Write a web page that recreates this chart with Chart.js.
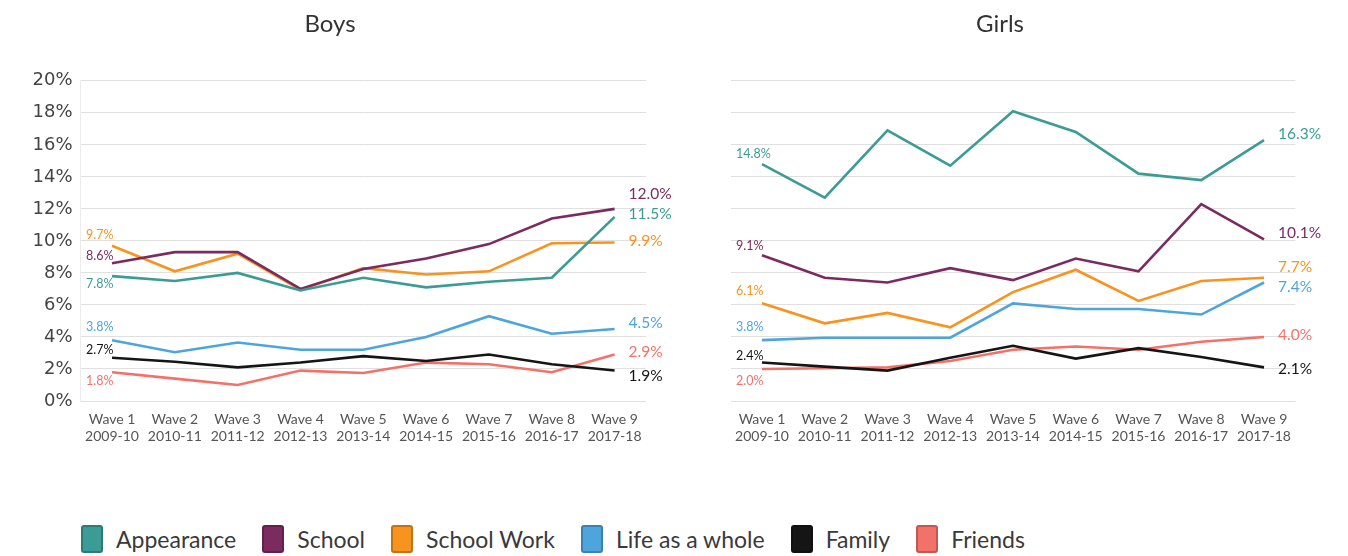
<!DOCTYPE html>
<html>
<head>
<meta charset="utf-8">
<title>Boys / Girls</title>
<script src="https://cdn.jsdelivr.net/npm/chart.js@4.4.1/dist/chart.umd.min.js"></script>
<style>
  body { margin: 0; background: #fff; width: 1348px; height: 556px; overflow: hidden; position: relative; font-family: Lato, sans-serif; }
  .wrap { position: absolute; top: 0; width: 674px; height: 460px; }
  #legend { position: absolute; left: 81px; top: 525px; display: flex; align-items: center; }
  .item { display: flex; align-items: center; margin-right: 26px; }
  .box { width: 22px; height: 28px; border-radius: 3px; box-sizing: border-box; border: 2px solid rgba(0,0,0,0.22); }
  .lbl { margin-left: 13px; font-size: 23px; color: #3a3a3a; line-height: 28px; }
</style>
</head>
<body>
<div class="wrap" style="left:0"><canvas id="boysChart"></canvas></div>
<div class="wrap" style="left:674px"><canvas id="girlsChart"></canvas></div>
<div id="legend"></div>

<script>
// カテゴリ (x軸ラベル 2行)
const waves = ["Wave 1", "Wave 2", "Wave 3", "Wave 4", "Wave 5", "Wave 6", "Wave 7", "Wave 8", "Wave 9"]
const years = ["2009-10", "2010-11", "2011-12", "2012-13", "2013-14", "2014-15", "2015-16", "2016-17", "2017-18"]

const seriesNames = ["Appearance", "School", "School Work", "Life as a whole", "Family", "Friends"]

// Boys (%)
const boysAppearance = [7.8, 7.5, 8.0, 6.9, 7.7, 7.1, 7.45, 7.7, 11.5]
const boysSchool     = [8.6, 9.3, 9.3, 7.0, 8.25, 8.9, 9.8, 11.4, 12.0]
const boysSchoolWork = [9.7, 8.1, 9.2, 6.95, 8.3, 7.9, 8.1, 9.85, 9.9]
const boysLife       = [3.8, 3.05, 3.65, 3.2, 3.2, 4.0, 5.3, 4.2, 4.5]
const boysFamily     = [2.7, 2.45, 2.1, 2.4, 2.8, 2.5, 2.9, 2.3, 1.9]
const boysFriends    = [1.8, 1.4, 1.0, 1.9, 1.75, 2.4, 2.3, 1.8, 2.9]

// Girls (%)
const girlsAppearance = [14.8, 12.7, 16.9, 14.7, 18.1, 16.8, 14.2, 13.8, 16.3]
const girlsSchool     = [9.1, 7.7, 7.4, 8.3, 7.55, 8.9, 8.1, 12.3, 10.1]
const girlsSchoolWork = [6.1, 4.85, 5.5, 4.6, 6.8, 8.2, 6.25, 7.5, 7.7]
const girlsLife       = [3.8, 3.95, 3.95, 3.95, 6.1, 5.75, 5.75, 5.4, 7.4]
const girlsFamily     = [2.4, 2.15, 1.9, 2.7, 3.45, 2.65, 3.3, 2.75, 2.1]
const girlsFriends    = [2.0, 2.05, 2.1, 2.5, 3.2, 3.4, 3.2, 3.7, 4.0]

// y軸目盛り
const yTicks = [0, 2, 4, 6, 8, 10, 12, 14, 16, 18, 20]

// 線の色
const colors = ["#3b9c95", "#7b2b60", "#f7931e", "#4ea5de", "#151515", "#f2726a"]

// 始点/終点ラベルの縦方向ずらし (px)
const boysStartShift  = [8, -7, -11, -13, -8, 9]
const boysEndShift    = [-3, -15, -2, -6, 5, -3]
const girlsStartShift = [-10, -9, -12, -13, -7, 12]
const girlsEndShift   = [-6, -6, -11, 4, 2, -2]

// 系列の始点と終点に値ラベルを描くプラグイン
const endLabels = {
  id: "endLabels",
  afterDatasetsDraw(chart, args, opts) {
    const ctx = chart.ctx
    chart.data.datasets.forEach((ds, i) => {
      const pts = chart.getDatasetMeta(i).data
      const first = pts[0]
      const last = pts[pts.length - 1]
      ctx.save()
      ctx.fillStyle = ds.borderColor
      ctx.textAlign = "left"
      ctx.textBaseline = "middle"
      ctx.font = "12.5px Lato, sans-serif"
      ctx.fillText(ds.data[0].toFixed(1) + "%", first.x - 26, first.y + opts.startShift[i])
      ctx.font = "15.5px Lato, sans-serif"
      ctx.fillText(ds.data[ds.data.length - 1].toFixed(1) + "%", last.x + 14, last.y + opts.endShift[i])
      ctx.restore()
    })
  }
}

function buildDatasets(values) {
  return values.map((data, i) => ({
    label: seriesNames[i],
    data: data,
    borderColor: colors[i],
    backgroundColor: colors[i],
    borderWidth: 2.6,
    pointRadius: 0,
    tension: 0
  }))
}

function buildChart(canvasId, title, values, opt) {
  return new Chart(document.getElementById(canvasId), {
    type: "line",
    data: {
      labels: waves.map((w, i) => [w, years[i]]),
      datasets: buildDatasets(values)
    },
    plugins: [endLabels],
    options: {
      responsive: true,
      maintainAspectRatio: false,
      animation: false,
      layout: { padding: { left: opt.padLeft, right: opt.padRight, top: 0, bottom: 0 } },
      plugins: {
        legend: { display: false },
        tooltip: { enabled: false },
        title: {
          display: true,
          text: title,
          color: "#333",
          font: { family: "Lato", size: 24, weight: "normal" },
          padding: { top: 10, bottom: 42 }
        },
        endLabels: { startShift: opt.startShift, endShift: opt.endShift }
      },
      scales: {
        x: {
          offset: true,
          grid: { display: false, drawTicks: false },
          border: { display: false },
          ticks: {
            color: "#555",
            font: { family: "Lato", size: 14, lineHeight: 1.2 },
            padding: 10,
            maxRotation: 0,
            autoSkip: false
          },
          afterFit: s => { s.height = 59 }
        },
        y: {
          min: 0,
          max: 20,
          afterBuildTicks: s => { s.ticks = yTicks.map(v => ({ value: v })) },
          grid: { color: "#e0e0e0", drawTicks: false },
          border: { display: opt.showAxis, color: "#ececec" },
          ticks: {
            display: opt.showAxis,
            color: "#444",
            font: { family: "DejaVu Sans", size: 18 },
            padding: 8,
            callback: v => v + "%"
          },
          afterFit: s => { s.width = opt.axisWidth }
        }
      }
    }
  })
}

buildChart("boysChart", "Boys",
  [boysAppearance, boysSchool, boysSchoolWork, boysLife, boysFamily, boysFriends],
  { padLeft: 14, padRight: 28, axisWidth: 66.6, showAxis: true, startShift: boysStartShift, endShift: boysEndShift })

buildChart("girlsChart", "Girls",
  [girlsAppearance, girlsSchool, girlsSchoolWork, girlsLife, girlsFamily, girlsFriends],
  { padLeft: 30.6, padRight: 52.6, axisWidth: 26, showAxis: false, startShift: girlsStartShift, endShift: girlsEndShift })

// 凡例 (HTML)
const legend = document.getElementById("legend")
seriesNames.forEach((name, i) => {
  const item = document.createElement("div")
  item.className = "item"
  const box = document.createElement("div")
  box.className = "box"
  box.style.background = colors[i]
  const lbl = document.createElement("span")
  lbl.className = "lbl"
  lbl.textContent = name
  item.appendChild(box)
  item.appendChild(lbl)
  legend.appendChild(item)
})
</script>
</body>
</html>
